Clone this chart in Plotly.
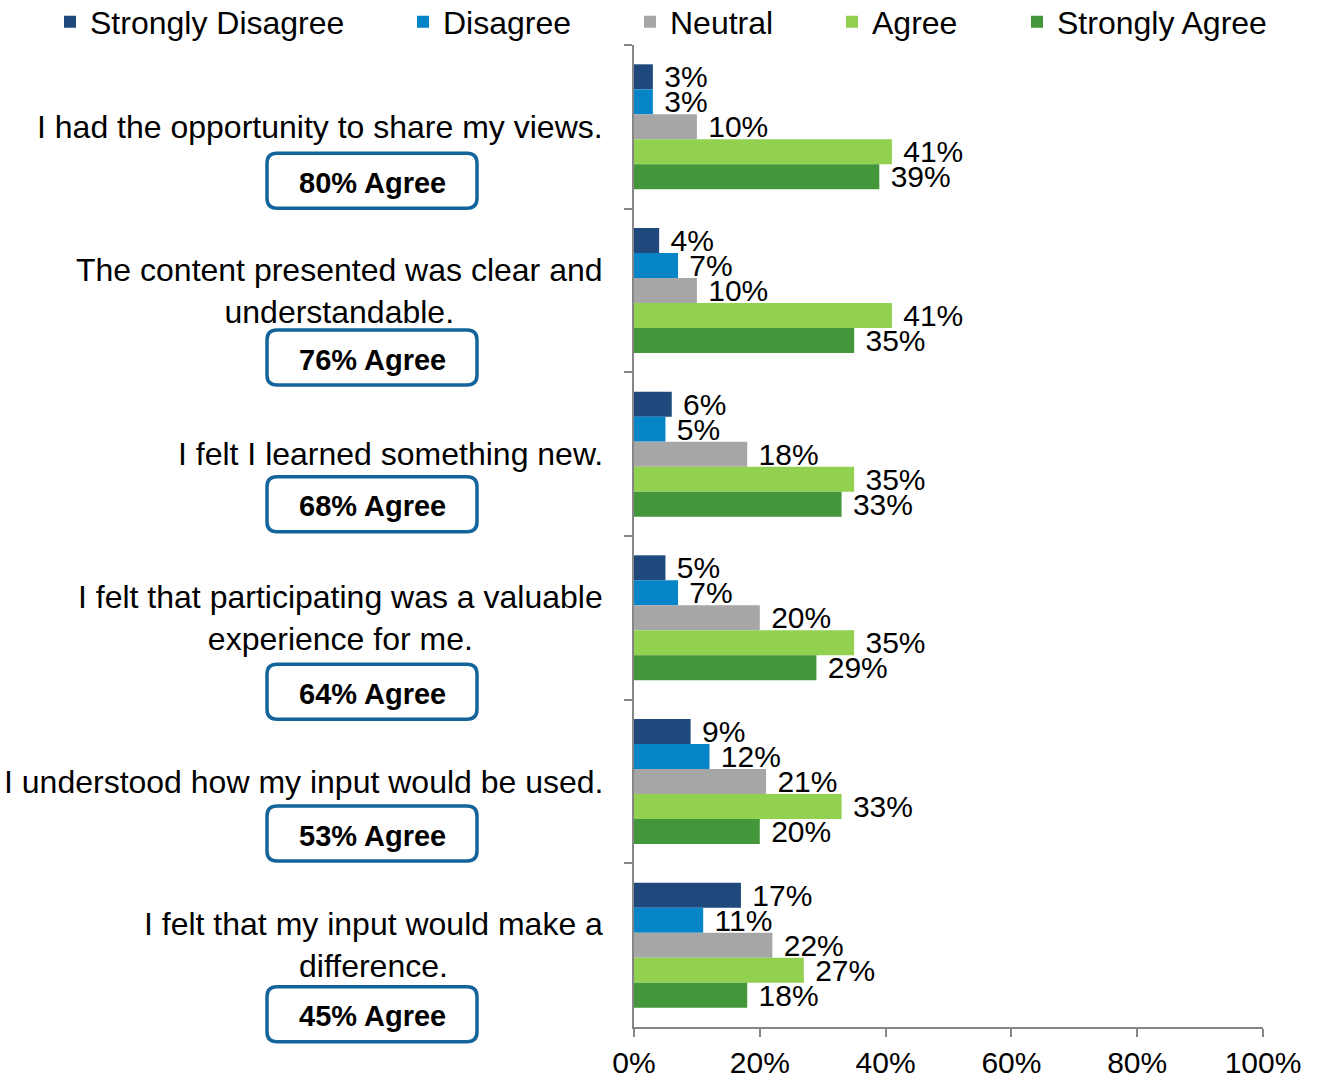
import plotly.graph_objects as go

# Survey statements (top to bottom); <br> marks the line breaks used in the labels
questions = [
    "I had the opportunity to share my views.",
    "The content presented was clear and<br>understandable.",
    "I felt I learned something new.",
    "I felt that participating was a valuable<br>experience for me.",
    "I understood how my input would be used.",
    "I felt that my input would make a<br>difference.",
]

# Percent of respondents per response level
strongly_disagree = [3, 4, 6, 5, 9, 17]
disagree = [3, 7, 5, 7, 12, 11]
neutral = [10, 10, 18, 20, 21, 22]
agree = [41, 41, 35, 35, 33, 27]
strongly_agree = [39, 35, 33, 29, 20, 18]

x_ticks = [0, 20, 40, 60, 80, 100]
x_tick_labels = ["0%", "20%", "40%", "60%", "80%", "100%"]

series = [
    ("Strongly Disagree", strongly_disagree, "#1F497D"),
    ("Disagree", disagree, "#0584C8"),
    ("Neutral", neutral, "#A6A6A6"),
    ("Agree", agree, "#92D050"),
    ("Strongly Agree", strongly_agree, "#43963A"),
]

FONT = "Liberation Sans, Arial, sans-serif"
W, H = 1320, 1080
ML, MR, MT, MB = 634, 57, 45, 53
PW, PH = W - ML - MR, H - MT - MB
AXIS_COLOR = "#868686"
BOX_COLOR = "#12649A"
NBSP = "\u00a0"

# Each legend entry gets its own legend box so the row is spaced evenly
legend_left = [50, 403, 630, 832, 1017]

fig = go.Figure()
legend_layouts = {}
for i, (name, vals, color) in enumerate(series):
    key = "legend" if i == 0 else f"legend{i + 1}"
    fig.add_trace(go.Bar(
        y=questions,
        x=vals,
        name=name,
        legend=key,
        orientation="h",
        marker=dict(color=color, line=dict(width=0)),
        text=[f"{v}%" for v in vals],
        texttemplate=NBSP + "%{text}",
        textposition="outside",
        constraintext="none",
        cliponaxis=False,
        textfont=dict(size=30, color="black", family=FONT),
    ))
    legend_layouts[key] = dict(
        orientation="h", xref="container", yref="container",
        x=legend_left[i] / W, xanchor="left",
        y=1 - 22 / H, yanchor="middle",
        font=dict(size=32, color="black", family=FONT),
        bgcolor="rgba(0,0,0,0)", itemclick=False, itemdoubleclick=False,
    )


def px_x(xp):
    return (xp - ML) / PW


def px_y(yp):
    return (MT + PH - yp) / PH


def rounded_rect(cx, cy, w, h, r):
    x0, x1 = cx - w / 2, cx + w / 2
    y0, y1 = cy - h / 2, cy + h / 2
    pts = [
        f"M {px_x(x0 + r)},{px_y(y0)}",
        f"L {px_x(x1 - r)},{px_y(y0)}",
        f"Q {px_x(x1)},{px_y(y0)} {px_x(x1)},{px_y(y0 + r)}",
        f"L {px_x(x1)},{px_y(y1 - r)}",
        f"Q {px_x(x1)},{px_y(y1)} {px_x(x1 - r)},{px_y(y1)}",
        f"L {px_x(x0 + r)},{px_y(y1)}",
        f"Q {px_x(x0)},{px_y(y1)} {px_x(x0)},{px_y(y1 - r)}",
        f"L {px_x(x0)},{px_y(y0 + r)}",
        f"Q {px_x(x0)},{px_y(y0)} {px_x(x0 + r)},{px_y(y0)}",
        "Z",
    ]
    return " ".join(pts)


# Summary boxes sit below each statement; offsets are pixels below the group centre
box_offsets = [54, 67, 50, 74, 52, 69]
box_cx, box_w, box_h = 372, 210, 55
group_h = PH / len(questions)

shapes = []
annotations = []
for i, q in enumerate(questions):
    centre = MT + group_h * (i + 0.5)
    annotations.append(dict(
        x=0, xref="paper", xshift=-29, xanchor="right",
        y=q, yref="y", yanchor="middle",
        text=q, showarrow=False, align="center",
        font=dict(size=32, color="black", family=FONT),
    ))
    total = agree[i] + strongly_agree[i]
    by = centre + box_offsets[i]
    shapes.append(dict(
        type="path", xref="paper", yref="paper",
        path=rounded_rect(box_cx, by, box_w, box_h, 10),
        line=dict(color=BOX_COLOR, width=3.5),
        fillcolor="white", layer="above",
    ))
    annotations.append(dict(
        x=px_x(box_cx), xref="paper", xanchor="center",
        y=px_y(by), yref="paper", yanchor="middle", yshift=-2,
        text=f"<b>{total}% Agree</b>", showarrow=False,
        font=dict(size=29, color="black", family=FONT),
    ))

fig.update_layout(
    width=W, height=H,
    margin=dict(l=ML, r=MR, t=MT, b=MB, pad=0, autoexpand=False),
    paper_bgcolor="white", plot_bgcolor="white",
    barmode="group", bargap=0.236, bargroupgap=0,
    font=dict(family=FONT, color="black"),
    showlegend=True,
    xaxis=dict(
        range=[0, 100], tickmode="array", tickvals=x_ticks, ticktext=x_tick_labels,
        showgrid=False, zeroline=False,
        showline=True, linecolor=AXIS_COLOR, linewidth=2,
        ticks="outside", ticklen=8, tickwidth=2, tickcolor=AXIS_COLOR,
        tickfont=dict(size=30, color="black", family=FONT),
    ),
    yaxis=dict(
        type="category", autorange="reversed",
        showticklabels=False, showgrid=False, zeroline=False,
        showline=True, linecolor=AXIS_COLOR, linewidth=2,
        ticks="outside", tickson="boundaries", ticklen=8,
        tickwidth=2, tickcolor=AXIS_COLOR,
    ),
    shapes=shapes,
    annotations=annotations,
    **legend_layouts,
)

fig.write_html("out.html")
